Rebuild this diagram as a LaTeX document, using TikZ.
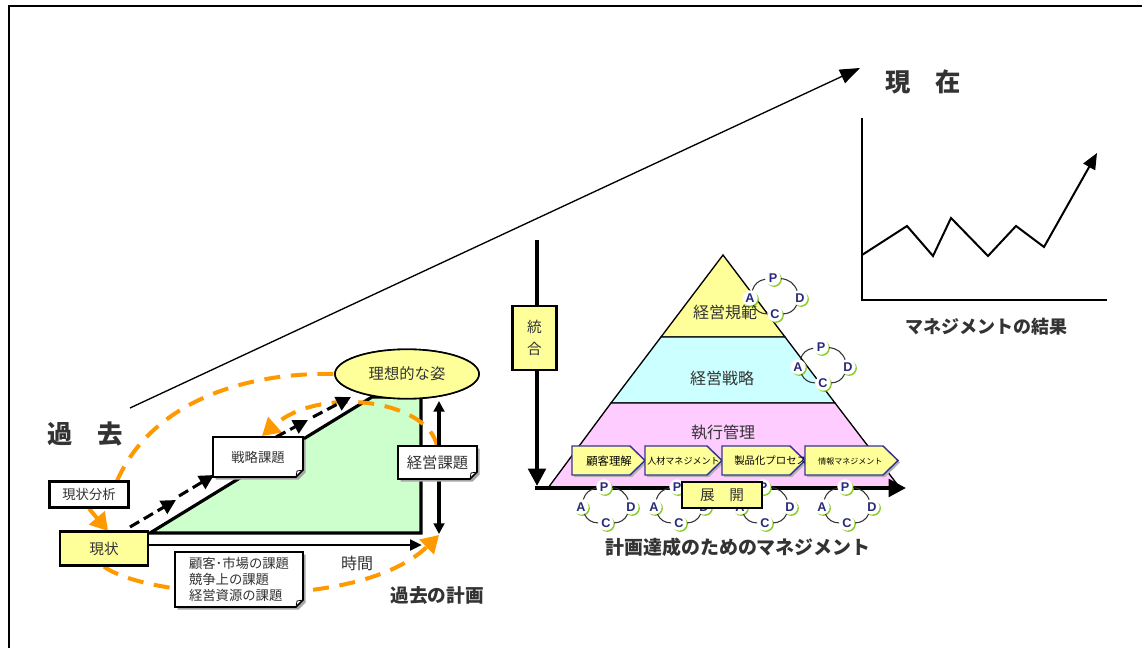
\documentclass[tikz,border=0pt]{standalone}
\usepackage{fontspec}
\newfontfamily\jp{Noto Sans CJK JP}
\setsansfont{Liberation Sans}
\usetikzlibrary{arrows.meta,shapes.geometric,shadows}
\definecolor{orng}{HTML}{FF9900}
\definecolor{yel}{HTML}{FFFF99}
\definecolor{grn}{HTML}{CCFFCC}
\definecolor{cyn}{HTML}{CCFFFF}
\definecolor{pnk}{HTML}{FFCCFF}
\definecolor{navy}{HTML}{333399}
\definecolor{pdgreen}{HTML}{88CC22}
\definecolor{ink}{HTML}{333333}
\newcommand\fs[1]{\fontsize{#1}{#1}\selectfont}
\tikzset{
  orangeflow/.style={draw=orng, line width=3pt, dash pattern=on 12pt off 8pt,
    -{Triangle[length=13pt,width=15pt,fill=orng]}},
  orangeline/.style={draw=orng, line width=3pt, dash pattern=on 12pt off 8pt},
  stairarrow/.style={line width=2.3pt, dash pattern=on 8pt off 4pt,
    -{Triangle[length=11pt,width=11pt]}},
  boldbox/.style={draw=black, line width=2.2pt, inner sep=0pt},
  title/.style={font=\jp\bfseries, text=ink},
  pd/.style={circle, fill=white, inner sep=0pt, minimum size=11.5pt,
    font=\sffamily\bfseries\fs{9.5}, text=navy!80!black,
    drop shadow={shadow xshift=0.9pt, shadow yshift=-0.9pt, fill=pdgreen, opacity=1}},
  cyc/.style={draw=black!80, line width=0.8pt},
  penta/.style={fill=yel, draw=navy, line width=1.1pt},
  pentatext/.style={font=\jp, inner sep=0pt},
}
\newcommand\notebox[6]{%
  \fill[black!35] (#2+2.5,#3+2.5) -- (#4+2.5,#3+2.5) -- (#4+2.5,#5+2.5-7) -- (#4+2.5-7,#5+2.5) -- (#2+2.5,#5+2.5) -- cycle;
  \filldraw[fill=white,draw=black,line width=1.2pt] (#2,#3) -- (#4,#3) -- (#4,#5-7) -- (#4-7,#5) -- (#2,#5) -- cycle;
  \draw[line width=0.6pt] (#4,#5-7) -- (#4-6,#5-6) -- (#4-7,#5);
  \node[inner sep=0pt, align=left, font=\jp, text=ink] (#1) at ({(#2+#4)/2},{(#3+#5)/2}) {#6};
}
\newcommand\pdca[3]{%
  \node[pd] (#1P) at (#2-2,#3-19) {P};
  \node[pd] (#1A) at (#2-25,#3+1) {A};
  \node[pd] (#1D) at (#2+25,#3+1) {D};
  \node[pd] (#1C) at (#2,#3+17) {C};
  \draw[cyc] (#1A) to[bend left=32] (#1P);
  \draw[cyc] (#1P) to[bend left=32] (#1D);
  \draw[cyc] (#1D) to[bend left=32] (#1C);
  \draw[cyc] (#1C) to[bend left=32] (#1A);
}
\newcommand\penta[4]{% name, x1, x2, label
  \fill[black!30] (#2+2,448) -- (#3-15+2,448) -- (#3+2,462.5) -- (#3-15+2,477) -- (#2+2,477) -- cycle;
  \filldraw[penta] (#2,446) -- (#3-15,446) -- (#3,460.5) -- (#3-15,475) -- (#2,475) -- cycle;
}
\begin{document}
\begin{tikzpicture}[x=0.75pt,y=-0.75pt]
\useasboundingbox (0,0) rectangle (1142,648);
\fill[white] (0,0) rectangle (1142,648);
% frame
\draw[line width=1.6pt] (9,648) -- (9,6) -- (1142,6);

% long time line
\coordinate (past) at (130,408);
\coordinate (now) at (860,68);
\draw[line width=1pt, -{Triangle[length=15pt,width=11pt]}] (past) -- (now);

% titles
\node[title, font=\jp\bfseries\fs{19}] (genzai) at (923,82) {現　在};
\node[title, font=\jp\bfseries\fs{19}] (kakotitle) at (85,434) {過　去};

% chart
\coordinate (ay) at (862,118);
\coordinate (ao) at (862,300);
\coordinate (ax) at (1107,300);
\draw[line width=2.2pt] (ay) -- (ao) -- (ax);
\draw[line width=1.5pt, line join=miter, -{Triangle[length=12pt,width=10pt]}]
  (862,255) -- (907,226) -- (933,256) -- (951,218) -- (988,256) -- (1016,226) -- (1044,247) -- (1097,153);
\node[title, font=\jp\bfseries\fs{13.5}] (kekka) at (986,327) {マネジメントの結果};

% ---------------- left: past plan
\filldraw[fill=grn, draw=black, line width=2.4pt, line join=miter]
  (150,533) -- (372,397) -- (421,397) -- (421,533) -- cycle;

% orange flows
\node[boldbox, minimum width=59pt, minimum height=19pt, font=\jp\fs{10}] (bunseki) at (89,494.5) {現状分析};
\node[boldbox, fill=yel, minimum width=66pt, minimum height=25pt, font=\jp\fs{11}] (genjo) at (104,548.5) {現状};
\node[draw=black, line width=1.2pt, fill=yel, ellipse, minimum width=108pt, minimum height=37pt, inner sep=0pt, font=\jp\fs{11.5}] (riso) at (407,374) {理想的な姿};
\coordinate (senryakutop) at (262,436);
\coordinate (keieitop) at (437,446);

\draw[orangeline] (117,481) .. controls (150,405) and (240,372) .. (riso.west);
\draw[orangeflow] (keieitop) .. controls (428,400) and (320,385) .. (senryakutop);
\draw[orangeflow] (bunseki.south) ++(0,0) -- (108,531);
\coordinate (goal) at (439,535);
\draw[orangeflow] (genjo.south) .. controls (150,600) and (360,612) .. (goal);

% redraw ellipse on top
\node[draw=black, line width=1.2pt, fill=yel, ellipse, minimum width=108pt, minimum height=37pt, inner sep=0pt, font=\jp\fs{11.5}, text=ink] at (407,374) {理想的な姿};

% time arrow
\coordinate (jikanend) at (422,545);
\draw[line width=2.2pt, -{Triangle[length=9pt,width=8pt]}] (genjo.east |- jikanend) -- (jikanend);
\node[font=\jp\fs{12}, text=ink] (jikan) at (357,563) {時間};

% double arrow
\coordinate (dtop) at (439,401);
\coordinate (dbot) at (439,534);
\draw[line width=2.4pt, {Triangle[length=8pt,width=8pt]}-{Triangle[length=8pt,width=8pt]}] (dtop) -- (dbot);

% boxes
\node[boldbox, minimum width=59pt, minimum height=19pt, fill=white, font=\jp\fs{10}, text=ink] at (89,494.5) {現状分析};
\node[boldbox, fill=yel, minimum width=66pt, minimum height=25pt, font=\jp\fs{11}, text=ink] at (104,548.5) {現状};
\notebox{senryaku}{213}{437}{303}{477}{\fs{10}戦略課題}
\notebox{keiei}{398}{446}{477}{479}{\fs{11.5}経営課題}
\notebox{kadai}{175}{552}{303}{607}{\fontsize{10}{10.2}\selectfont 顧客･市場の課題\\競争上の課題\\経営資源の課題}

% stair arrows
\coordinate (s1) at (130,527);
\coordinate (s2) at (176,500);
\coordinate (s3) at (179,496);
\coordinate (s4) at (214,475);
\coordinate (s5) at (276,437);
\coordinate (s6) at (308,420);
\coordinate (s7) at (313,417);
\coordinate (s8) at (351,397);
\draw[stairarrow] (s1) -- (s2);
\draw[stairarrow] (s3) -- (s4);
\draw[stairarrow] (s5) -- (s6);
\draw[stairarrow] (s7) -- (s8);

\node[title, font=\jp\bfseries\fs{14}] (kakoplan) at (437,595) {過去の計画};

% ---------------- middle: pyramid
\filldraw[fill=yel, draw=black, line width=1pt] (723,255) -- (785,337) -- (661,337) -- cycle;
\filldraw[fill=cyn, draw=black, line width=1pt] (661,337) -- (785,337) -- (835,403) -- (611,403) -- cycle;
\filldraw[fill=pnk, draw=black, line width=1pt] (611,403) -- (835,403) -- (900,488) -- (548,488) -- cycle;
\node[font=\jp\fs{12}, text=ink] (kihan) at (725,312) {経営規範};
\node[font=\jp\fs{12}, text=ink] (senryaku2) at (722,378) {経営戦略};
\node[font=\jp\fs{12}, text=ink] (shikko) at (723,433) {執行管理};

\penta{pa}{572}{645}{}
\node[pentatext, font=\jp\fs{8.5}] (pat) at (609,461) {顧客理解};
\penta{pb}{645}{722}{}
\node[pentatext, font=\jp\fs{6.8}, anchor=west] (pbt) at (647,461) {人材マネジメント};
\penta{pc}{722}{805}{}
\node[pentatext, font=\jp\fs{7.8}, anchor=west] (pct) at (734,461) {製品化プロセス};
\penta{pd}{805}{898}{}
\node[pentatext, font=\jp\fs{6}, anchor=west] (pdt) at (818,461) {情報マネジメント};

% integration arrow
\coordinate (itop) at (537,240);
\coordinate (ibot) at (537,486);
\draw[line width=3pt, -{Triangle[length=13pt,width=13pt]}] (itop) -- (ibot);
\coordinate (tend) at (906,488);
\draw[line width=3pt, -{Triangle[length=13pt,width=13pt]}] (535,488) -- (tend);

% PDCA
\pdca{q1}{775}{297}
\pdca{q2}{823}{366}
\pdca{b1}{606}{506}
\pdca{b2}{679}{506}
\pdca{b3}{765}{506}
\pdca{b4}{847}{506}

\node[boldbox, fill=yel, minimum width=33pt, minimum height=48pt, font=\jp\fs{11}, align=center, text=ink] (togo) at (534.5,338) {統\\[5pt]合};
\node[boldbox, fill=yel, minimum width=60pt, minimum height=19.5pt, font=\jp\fs{11}, text=ink] (tenkai) at (722,495) {展　開};

\node[title, font=\jp\bfseries\fs{14.2}] (tassei) at (738,547) {計画達成のためのマネジメント};
\end{tikzpicture}
\end{document}
